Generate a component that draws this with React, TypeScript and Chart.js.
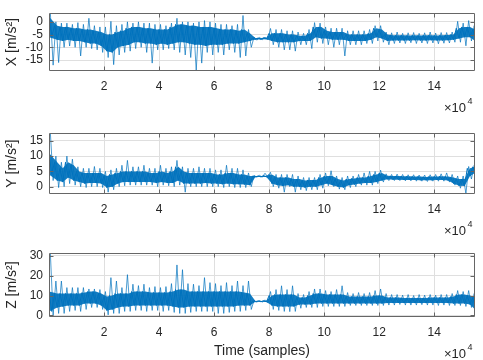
import React, { useEffect, useRef } from "react";
import { Chart, registerables } from "chart.js";
Chart.register(...registerables);

const BLUE = "#0072BD";
const BLUE_FILL = "rgba(0,114,189,0.92)";
const GRID = "#dfdfdf";
const TEXT = "#262626";
const BOX = "#666666";
const FONT = "'Liberation Sans', Arial, Helvetica, sans-serif";

const BIN = 2000;
const X_MAX = 154800;
const xTickValues = [20000, 40000, 60000, 80000, 100000, 120000, 140000];

// ---- X acceleration (per 2000-sample bin): dense core band and spike extremes
const xCoreHi = [2, -1.5, -2, -2, -2.5, -2.5, -3, -3, -3.5, -4, -5, -5, -4, -3.5, -2.5, -2, -2, -2.5, -2.5, -3, -3, -3, -2, -1, -1, -1.5, -1.5, -2, -2, -2, -2.5, -3, -3, -3, -3.5, -3, -4.5, -6.3, -6.3, -6.2, -4.5, -4.5, -4.5, -5, -5, -5.5, -5.5, -4.5, -2, -2, -3.5, -4, -4, -4, -5, -5, -5, -5, -4.5, -2.5, -3, -5, -5.3, -5.3, -5.3, -5.4, -5.3, -5.4, -5.3, -5.3, -5.4, -5.3, -5.2, -5, -2.5, -2, -2, -3];
const xCoreLo = [-6, -7, -7.5, -7, -7.5, -7.5, -8, -8.5, -8.5, -9.5, -11.5, -12, -10, -9.5, -9, -8, -8, -8.5, -8.5, -9, -8.5, -9, -8.5, -8, -8, -8.5, -9, -9, -9.5, -9, -9, -9, -8.5, -8.5, -8.5, -8, -7.5, -6.9, -6.9, -6.8, -7.5, -8, -8, -8, -8, -7.5, -7.5, -7.5, -6, -6.5, -6.5, -7, -7, -7, -7.5, -7.5, -7.5, -7.5, -7, -6, -6.5, -7.5, -7.3, -7.3, -7.3, -7.3, -7.2, -7.3, -7.3, -7.2, -7.3, -7.3, -7.2, -7, -6.5, -6, -6, -7.5];
const xPeakHi = [3.4, 0, -0.5, -0.5, -1, -0.3, -1, 1.4, -1.5, -2, -2, 0.2, -1.5, -1, 0, -0.5, 0, -0.5, -0.5, -1, -1, -1.5, -0.5, 1.4, 0, 0, -0.5, 0, 0.5, 0, -0.5, -1, -1, -1.5, -1, 2.5, -3, -6, -6.1, -6, -2.6, -3, -3, -3.5, -3.5, -4, -4.5, -3, -0.3, -0.5, -2, -2.5, -2.5, -2.5, -3.5, -3.5, -3.5, -3.5, -3, -1.5, -1.5, -4, -4.3, -4, -4.5, -4.3, -4.2, -4.5, -4.3, -4, -4.4, -4.2, -4.2, -4, 0.2, -0.5, 0.5, -1.5];
const xPeakLo = [-17, -16, -10, -9.5, -10, -13.4, -10, -10.5, -11, -12, -14, -16.8, -13, -12, -11.5, -10.5, -10, -12, -16.2, -11, -11, -10.5, -11, -12, -13, -14, -19, -16.2, -12, -13, -12, -13, -11, -12, -14, -13.4, -10, -7.2, -7, -7, -9, -10, -11, -11, -11.5, -9, -9, -10.5, -8, -8.5, -9, -10, -9, -13.4, -9, -9, -9, -8.5, -8.5, -7.5, -8, -9, -8.5, -8.3, -8.5, -8.2, -8.5, -8.3, -8.5, -8.3, -8.6, -8.4, -8.3, -8, -8, -9.4, -7.5, -8];

// ---- Y acceleration
const yCoreHi = [11, 8, 6, 8, 7, 5, 4.5, 4.5, 4.5, 4.5, 3.5, 4, 4.5, 5, 5, 5, 5, 5, 4.5, 4.5, 5, 4.5, 5, 6.5, 5, 4.5, 4.5, 4.5, 4.5, 4.5, 4, 4, 4.5, 4.5, 4, 4, 3.5, 3.5, 3.5, 3.6, 4, 3, 3, 3, 2.5, 2.5, 2, 2.2, 2.2, 3, 3.5, 3.5, 2.5, 2, 2.5, 2.7, 3, 3, 3.5, 4, 4.5, 3.6, 3.5, 3.5, 3.4, 3.4, 3.3, 3.3, 3.2, 3.3, 3.3, 3.4, 3.3, 3, 2.5, 2.5, 6, 6.5];
const yCoreLo = [4, 2, 1.5, 3, 2, 1.5, 1, 1.2, 1.2, 1, -0.3, 0, 1, 1.5, 1.5, 1.5, 1.5, 1.5, 1.5, 1.2, 1.5, 1.2, 1.2, 2, 1, 1, 1, 1, 1.2, 1, 1, 0.8, 1, 0.8, 0.8, 0.7, 0.5, 3.2, 3.2, 3.2, 1, 0.5, 0.2, 0.5, 0, 0, -0.3, 0, 0, 0.5, 1, 0.5, 0, -0.3, 0.5, 0.7, 1, 1.2, 1.2, 1.5, 2, 2.4, 2.3, 2.3, 2.2, 2.2, 2.2, 2.1, 2.1, 2.1, 2.2, 2.2, 2, 1, 0.3, 0.2, 3.5, 4.5];
const yPeakHi = [17.5, 10, 8, 10, 9, 6.5, 6, 6, 6.6, 6, 5, 5.5, 6, 7, 8.6, 6.5, 6.5, 7, 6, 6, 7, 6, 6.5, 8.6, 6.5, 6, 6, 6.5, 6, 6, 5.5, 5.5, 7, 6, 6, 5.5, 4.5, 3.7, 3.7, 4.4, 4.7, 4, 4, 4, 4, 3.5, 3, 3, 3, 4, 4.5, 5.2, 3.5, 3, 3.5, 3.5, 4, 4.5, 5, 5, 5.4, 4.2, 4, 4.1, 4, 3.9, 3.9, 3.8, 3.8, 3.9, 4, 4.2, 4.5, 4, 3.5, 3.5, 6.6, 7];
const yPeakLo = [2, -0.3, 0, 1, 0.5, 0, -0.3, 0, 0, -0.3, -1.8, -1, 0, 0.3, 0.5, 0.5, 0.5, 0.5, 0.5, 0, 0.5, 0.3, 0, 0.5, -1.8, 0, 0, 0, 0, 0, 0, -0.3, 0, -0.3, -0.3, -0.3, 0, 3.1, 3.1, 3.1, 0, -0.5, -1.8, 0, -1.8, -1, -1.3, -1, -1, -0.5, 0.3, 0, -0.8, -1, -0.3, 0, 0.5, 0.5, 0.5, 1, 1.5, 2, 2, 2, 1.9, 1.9, 1.8, 1.8, 1.7, 1.8, 1.8, 1.8, 1.5, 0.5, -0.5, -2.3, 2.5, 4];

// ---- Z acceleration
const zCoreHi = [12, 11, 11, 11, 11, 11, 11.5, 12, 12, 11, 9.5, 10, 11, 11, 11, 12, 12, 12, 11.5, 11.5, 11.5, 11.5, 12, 13, 13, 12, 12, 12, 12, 12, 12, 12, 12, 12, 12, 11.5, 11, 7.3, 7.3, 7.4, 10, 10.5, 10.5, 10.5, 10.5, 9, 9, 10, 11, 11, 10.5, 10.5, 10.5, 10.5, 9.5, 9.5, 9.5, 9.5, 9.5, 10, 10, 9, 9, 9, 8.8, 8.8, 8.8, 8.8, 8.8, 9, 9, 9, 9, 9.5, 10.5, 10.5, 10, 9];
const zCoreLo = [2, 4, 4.5, 5, 5, 5, 6, 6, 6, 5, 2.5, 3, 4, 4.5, 4.5, 5, 5, 5, 5, 5, 5, 5, 4.5, 4, 4, 4.5, 4.5, 4.5, 4.5, 4.5, 4.5, 4.5, 4.5, 4.5, 5, 5, 5, 6.9, 6.9, 6.8, 5, 4.5, 4.5, 4.5, 4.5, 5.5, 5.5, 5.5, 6, 6, 6, 6, 6, 6, 6, 6, 6, 6, 6, 6, 6, 6.2, 6.2, 6.3, 6.2, 6.2, 6.2, 6.2, 6.2, 6.2, 6.2, 6.2, 6.2, 6, 6, 6, 5.5, 3];
const zPeakHi = [31, 17.3, 17.3, 14, 14, 14, 14, 13.3, 13.3, 13, 12, 19, 17.3, 14, 20.5, 15.7, 15, 15.7, 14, 14.5, 14, 14.5, 16, 25.4, 23, 16, 15.7, 15, 19, 16.5, 16, 15, 16.5, 15, 17.3, 15, 17.3, 7.5, 7.5, 7.8, 12, 13, 14.9, 13, 14.9, 11, 10.5, 12, 13.3, 13.3, 12.5, 12, 13, 14.9, 11.5, 11, 11.5, 11, 11.5, 12.5, 13.3, 11, 10.5, 10.5, 10.2, 10.5, 10, 10.5, 10.2, 10.5, 10.2, 10.5, 10.5, 11, 12.5, 12, 12.5, 11];
const zPeakLo = [0, 1, 1, 2, 2.5, 2, 3, 4, 4, 3, 0.3, 1, 1, 2, 2, 2.5, 2.5, 2, 2.5, 2.5, 2, 2.5, 1.5, 1, 1, 1.5, 2, 2, 2, 2, 1, 1, 1.5, 2, 2, 2.5, 3, 6.7, 6.7, 6.5, 3, 2.5, 2, 1.9, 2, 3.6, 4, 4, 4, 4.5, 4.5, 4.5, 4.5, 4.5, 5, 5, 5, 5, 5, 5, 5, 5.2, 5.2, 5.5, 5.2, 5.2, 5.2, 5.4, 5.2, 5.2, 5, 5.2, 5, 5, 5, 4.5, 4, 2.5];

const xYTicks = [-15, -10, -5, 0];
const yYTicks = [0, 5, 10, 15];
const zYTicks = [0, 10, 20, 30];

function corePoints(vals: number[]) {
  return vals.map((v, i) => ({
    x: i === 0 ? 0 : i === vals.length - 1 ? X_MAX : i * BIN + BIN / 2,
    y: v,
  }));
}
function zigzag(hi: number[], lo: number[], phase: number) {
  const pts: { x: number; y: number }[] = [];
  hi.forEach((h, i) => {
    pts.push({ x: i * BIN + phase * BIN, y: h });
    pts.push({ x: i * BIN + (phase + 0.5) * BIN, y: lo[i] });
  });
  return pts;
}

const matlabAxes = {
  id: "matlabAxes",
  afterDraw(chart: any) {
    const { ctx, chartArea: a, scales } = chart;
    const L = Math.floor(a.left) + 0.5;
    const R = Math.ceil(a.right) - 0.5;
    const T = Math.floor(a.top) + 0.5;
    const B = Math.ceil(a.bottom) - 0.5;
    const TL = 4;
    ctx.save();
    ctx.strokeStyle = BOX;
    ctx.lineWidth = 1;
    ctx.beginPath();
    ctx.rect(L, T, R - L, B - T);
    for (const t of scales.x.ticks) {
      const px = Math.round(scales.x.getPixelForValue(t.value)) + 0.5;
      ctx.moveTo(px, B); ctx.lineTo(px, B - TL);
      ctx.moveTo(px, T); ctx.lineTo(px, T + TL);
    }
    for (const t of scales.y.ticks) {
      const py = Math.round(scales.y.getPixelForValue(t.value)) + 0.5;
      ctx.moveTo(L, py); ctx.lineTo(L + TL, py);
      ctx.moveTo(R, py); ctx.lineTo(R - TL, py);
    }
    ctx.stroke();
    // x10^4 exponent label
    ctx.fillStyle = TEXT;
    ctx.textBaseline = "alphabetic";
    ctx.textAlign = "left";
    ctx.font = `13px ${FONT}`;
    const base = a.bottom + 40.5;
    ctx.fillText("\u00d710", a.right - 31, base);
    ctx.font = `9px ${FONT}`;
    ctx.fillText("4", a.right - 7.5, base - 8);
    ctx.restore();
  },
};

type Spec = {
  coreHi: number[]; coreLo: number[]; peakHi: number[]; peakLo: number[];
  yMin: number; yMax: number; yTicks: number[]; label: string;
  top: number; xh: number; xTitle?: string;
};

function buildConfig(p: Spec): any {
  return {
    type: "line",
    data: {
      datasets: [
        { data: corePoints(p.coreHi), borderColor: "rgba(0,0,0,0)", borderWidth: 0, backgroundColor: BLUE_FILL, fill: "+1", pointRadius: 0, tension: 0 },
        { data: corePoints(p.coreLo), borderColor: "rgba(0,0,0,0)", borderWidth: 0, fill: false, pointRadius: 0, tension: 0 },
        { data: zigzag(p.coreHi, p.coreLo, 0), borderColor: BLUE, borderWidth: 1, fill: false, pointRadius: 0, tension: 0 },
        { data: zigzag(p.peakHi, p.peakLo, 0.25), borderColor: BLUE, borderWidth: 0.7, fill: false, pointRadius: 0, tension: 0 },
      ],
    },
    options: {
      responsive: false,
      animation: false,
      events: [],
      layout: { padding: { top: p.top, right: 8, left: 0, bottom: 0 } },
      plugins: { legend: { display: false }, tooltip: { enabled: false } },
      scales: {
        x: {
          type: "linear",
          min: 0,
          max: X_MAX,
          afterBuildTicks: (s: any) => { s.ticks = xTickValues.map((v) => ({ value: v })); },
          afterFit: (s: any) => { s.height = p.xh; },
          grid: { color: GRID, drawTicks: false, lineWidth: 1 },
          border: { display: false },
          ticks: { padding: 8, color: TEXT, font: { size: 12, family: FONT }, maxRotation: 0, autoSkip: false, callback: (v: number) => String(v / 10000) },
          title: p.xTitle
            ? { display: true, text: p.xTitle, color: TEXT, font: { size: 14, family: FONT }, padding: { top: 0, bottom: 0.5 } }
            : { display: false },
        },
        y: {
          type: "linear",
          min: p.yMin,
          max: p.yMax,
          afterBuildTicks: (s: any) => { s.ticks = p.yTicks.map((v) => ({ value: v })); },
          afterFit: (s: any) => { s.width = 49; },
          grid: { color: GRID, drawTicks: false, lineWidth: 1 },
          border: { display: false },
          ticks: { padding: 6, color: TEXT, font: { size: 12, family: FONT }, autoSkip: false },
          title: { display: true, text: p.label, color: TEXT, font: { size: 14, family: FONT }, padding: { top: 4, bottom: 0 } },
        },
      },
    },
    plugins: [matlabAxes],
  };
}

const specs: Spec[] = [
  { coreHi: xCoreHi, coreLo: xCoreLo, peakHi: xPeakHi, peakLo: xPeakLo, yMin: -19.3, yMax: 3.4, yTicks: xYTicks, label: "X [m/s\u00b2]", top: 4, xh: 49 },
  { coreHi: yCoreHi, coreLo: yCoreLo, peakHi: yPeakHi, peakLo: yPeakLo, yMin: -2.4, yMax: 17.5, yTicks: yYTicks, label: "Y [m/s\u00b2]", top: 7, xh: 46 },
  { coreHi: zCoreHi, coreLo: zCoreLo, peakHi: zPeakHi, peakLo: zPeakLo, yMin: -0.8, yMax: 31.3, yTicks: zYTicks, label: "Z [m/s\u00b2]", top: 11, xh: 43, xTitle: "Time (samples)" },
];

function Panel({ spec, top }: { spec: Spec; top: number }) {
  const ref = useRef<HTMLCanvasElement | null>(null);
  useEffect(() => {
    if (!ref.current) return;
    const chart = new Chart(ref.current, buildConfig(spec));
    return () => chart.destroy();
  }, [spec]);
  return (
    <canvas
      ref={ref}
      width={483}
      height={120}
      style={{ position: "absolute", left: 0, top, width: 483, height: 120, display: "block" }}
    />
  );
}

export default function App() {
  return (
    <div style={{ position: "fixed", left: 0, top: 0, width: 483, height: 360, background: "#fff" }}>
      {specs.map((s, i) => (
        <Panel key={i} spec={s} top={i * 120} />
      ))}
    </div>
  );
}
